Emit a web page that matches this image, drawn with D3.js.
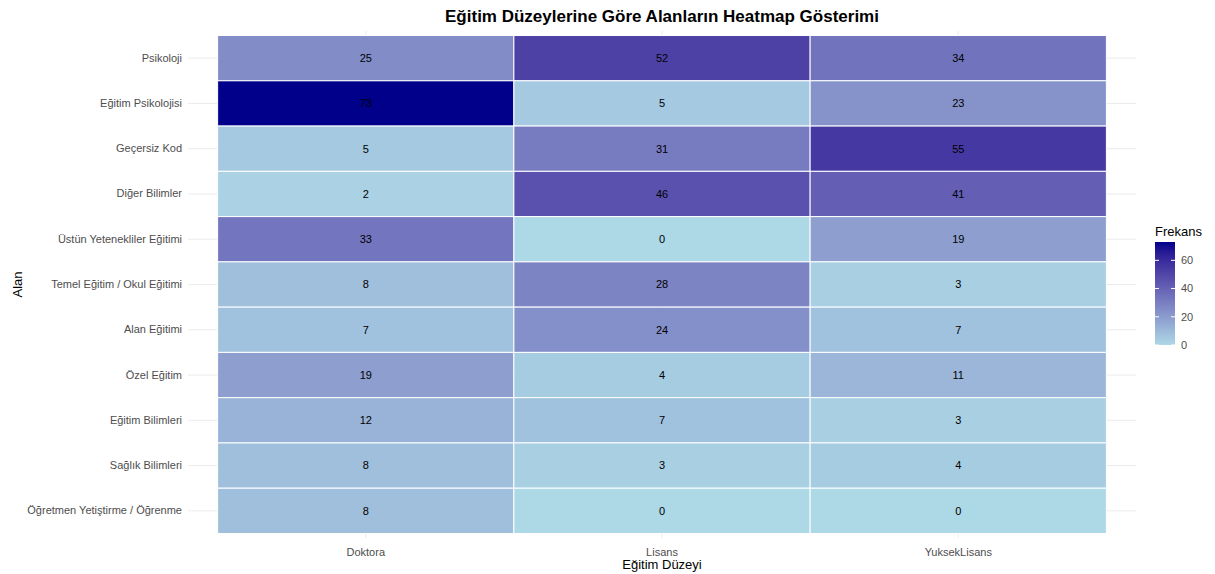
<!DOCTYPE html>
<html>
<head>
<meta charset="utf-8">
<script src="https://cdn.jsdelivr.net/npm/d3@7"></script>
<style>
  body { margin: 0; background: #fff; font-family: "Liberation Sans", Arial, sans-serif; }
  .grid line { stroke: #ebebeb; stroke-width: 1; }
</style>
</head>
<body>
<svg id="svg_heatmap" width="1215" height="574"></svg>
<script>
const alanlar = [
  'Psikoloji', 'Eğitim Psikolojisi', 'Geçersiz Kod', 'Diğer Bilimler',
  'Üstün Yetenekliler Eğitimi', 'Temel Eğitim / Okul Eğitimi', 'Alan Eğitimi',
  'Özel Eğitim', 'Eğitim Bilimleri', 'Sağlık Bilimleri', 'Öğretmen Yetiştirme / Öğrenme'
]
const duzeyler = ['Doktora', 'Lisans', 'YuksekLisans']
const doktora = [25, 73, 5, 2, 33, 8, 7, 19, 12, 8, 8]
const lisans = [52, 5, 31, 46, 0, 28, 24, 4, 7, 3, 0]
const yuksekLisans = [34, 23, 55, 41, 19, 3, 7, 11, 3, 4, 0]
const legendTicks = [0, 20, 40, 60]

const series = { Doktora: doktora, Lisans: lisans, YuksekLisans: yuksekLisans }
const cells = []
duzeyler.forEach(d => {
  alanlar.forEach((a, i) => cells.push({ alan: a, duzey: d, count: series[d][i] }))
})

const svg = d3.select('#svg_heatmap')

// panel bounds (ggplot discrete expansion of 0.6 units)
const panel = { left: 188, right: 1136, top: 31, bottom: 538 }

const xScale = d3.scaleBand()
  .domain(duzeyler)
  .range([panel.left, panel.right])
  .paddingOuter(0.1)
  .paddingInner(0)

const yScale = d3.scaleBand()
  .domain(alanlar)
  .range([panel.top, panel.bottom])
  .paddingOuter(0.1)
  .paddingInner(0)

const maxCount = d3.max(cells, d => d.count)
const color = d3.scaleLinear()
  .domain([0, maxCount])
  .range(['#ADD8E6', '#00008B'])
  .interpolate(d3.interpolateLab)

// grid
const grid = svg.append('g').attr('class', 'grid')
grid.selectAll('.gx')
  .data(duzeyler)
  .enter()
  .append('line')
  .attr('x1', d => xScale(d) + xScale.bandwidth() / 2)
  .attr('x2', d => xScale(d) + xScale.bandwidth() / 2)
  .attr('y1', panel.top)
  .attr('y2', panel.bottom)
grid.selectAll('.gy')
  .data(alanlar)
  .enter()
  .append('line')
  .attr('y1', d => yScale(d) + yScale.bandwidth() / 2)
  .attr('y2', d => yScale(d) + yScale.bandwidth() / 2)
  .attr('x1', panel.left)
  .attr('x2', panel.right)

// tiles
const tiles = svg.append('g')
tiles.selectAll('rect')
  .data(cells)
  .enter()
  .append('rect')
  .attr('x', d => xScale(d.duzey))
  .attr('y', d => yScale(d.alan))
  .attr('width', xScale.bandwidth())
  .attr('height', yScale.bandwidth())
  .attr('fill', d => color(d.count))
  .attr('stroke', 'white')
  .attr('stroke-width', 1)

tiles.selectAll('text')
  .data(cells)
  .enter()
  .append('text')
  .attr('x', d => xScale(d.duzey) + xScale.bandwidth() / 2)
  .attr('y', d => yScale(d.alan) + yScale.bandwidth() / 2)
  .attr('dy', '0.35em')
  .attr('text-anchor', 'middle')
  .attr('font-size', 11)
  .attr('fill', 'black')
  .text(d => d.count)

// axes
const bottomAxis = d3.axisBottom(xScale).tickSize(0).tickPadding(10)
const leftAxis = d3.axisLeft(yScale).tickSize(0).tickPadding(6)

const gx = svg.append('g')
  .attr('transform', `translate(0, ${panel.bottom})`)
  .call(bottomAxis)
gx.select('.domain').remove()
gx.selectAll('text').attr('font-size', 11).attr('fill', '#4D4D4D').attr('font-family', 'Liberation Sans, Arial, sans-serif')

const gy = svg.append('g')
  .attr('transform', `translate(${panel.left}, 0)`)
  .call(leftAxis)
gy.select('.domain').remove()
gy.selectAll('text').attr('font-size', 11).attr('fill', '#4D4D4D').attr('font-family', 'Liberation Sans, Arial, sans-serif')

// titles
svg.append('text')
  .text('Eğitim Düzeylerine Göre Alanların Heatmap Gösterimi')
  .attr('x', (panel.left + panel.right) / 2)
  .attr('y', 22)
  .attr('text-anchor', 'middle')
  .attr('font-size', 17)
  .attr('font-weight', 'bold')

svg.append('text')
  .text('Eğitim Düzeyi')
  .attr('x', (panel.left + panel.right) / 2)
  .attr('y', 569)
  .attr('text-anchor', 'middle')
  .attr('font-size', 13)

svg.append('text')
  .text('Alan')
  .attr('transform', `translate(22, ${(panel.top + panel.bottom) / 2}) rotate(-90)`)
  .attr('text-anchor', 'middle')
  .attr('font-size', 13)

// legend
const legend = svg.append('g').attr('transform', 'translate(1155, 0)')
legend.append('text')
  .text('Frekans')
  .attr('x', 0)
  .attr('y', 236)
  .attr('font-size', 13)

const barTop = 242, barBottom = 345, barW = 20
const legendScale = d3.scaleLinear().domain([0, maxCount]).range([barBottom, barTop])

const grad = svg.append('defs').append('linearGradient')
  .attr('id', 'fillGrad')
  .attr('x1', 0).attr('y1', 1).attr('x2', 0).attr('y2', 0)
d3.range(0, 11).forEach(i => {
  grad.append('stop')
    .attr('offset', i / 10)
    .attr('stop-color', color(maxCount * i / 10))
})

legend.append('rect')
  .attr('x', 0)
  .attr('y', barTop)
  .attr('width', barW)
  .attr('height', barBottom - barTop)
  .attr('fill', 'url(#fillGrad)')

legend.selectAll('.tk')
  .data(legendTicks)
  .enter()
  .append('g')
  .each(function (d) {
    const g = d3.select(this)
    const y = legendScale(d)
    g.append('line').attr('x1', 0).attr('x2', 4).attr('y1', y).attr('y2', y).attr('stroke', 'white')
    g.append('line').attr('x1', barW - 4).attr('x2', barW).attr('y1', y).attr('y2', y).attr('stroke', 'white')
    g.append('text')
      .text(d)
      .attr('x', barW + 6)
      .attr('y', y)
      .attr('dy', '0.35em')
      .attr('font-size', 11)
      .attr('fill', '#4D4D4D')
  })
</script>
</body>
</html>
